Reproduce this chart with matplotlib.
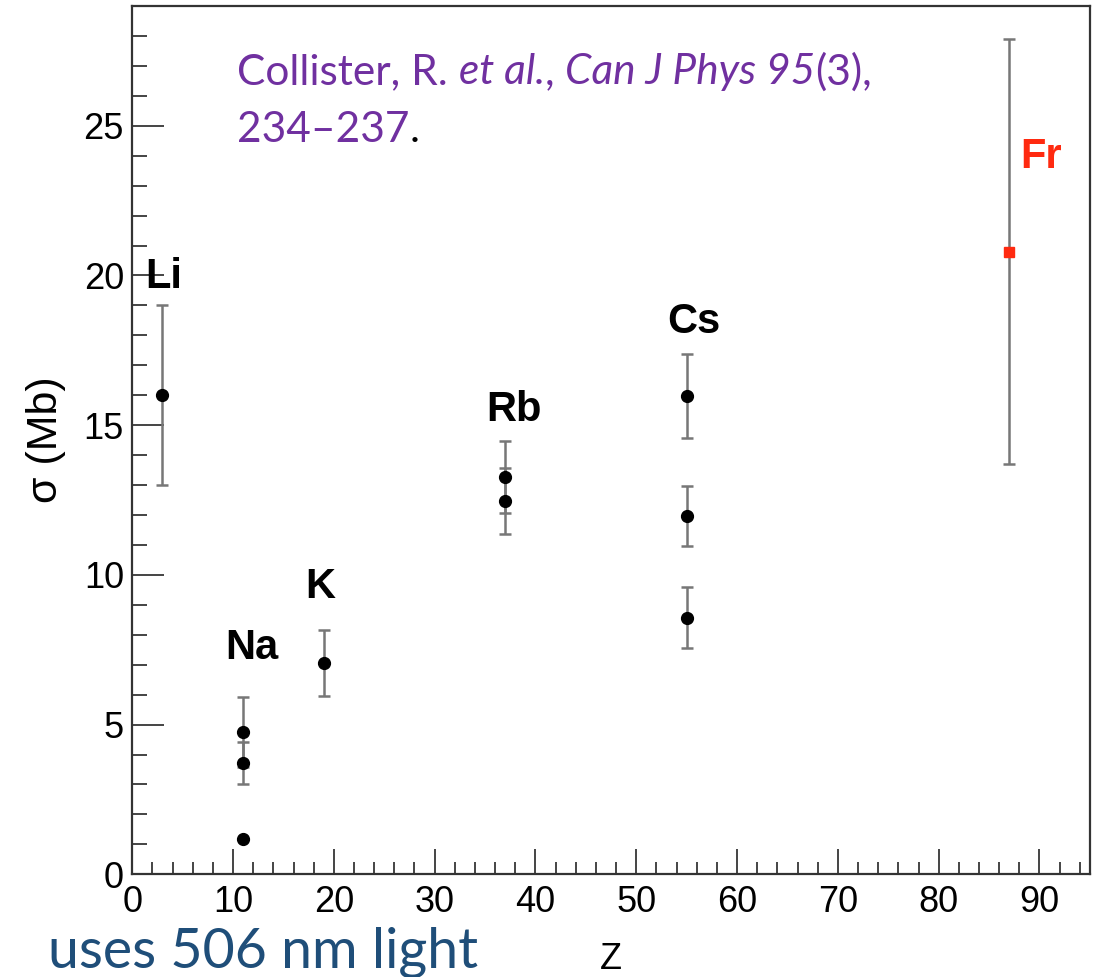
import matplotlib
matplotlib.use("Agg")
import matplotlib.pyplot as plt
from matplotlib.ticker import MultipleLocator

# measured cross sections (Mb) vs atomic number
z_vals = [3, 11, 11, 11, 19, 37, 37, 55, 55, 55]
sigma_vals = [16.0, 4.76, 3.71, 1.18, 7.07, 13.28, 12.47, 15.98, 11.97, 8.57]
sigma_err = [3.0, 1.17, 0.71, 0.0, 1.1, 1.2, 1.1, 1.41, 1.01, 1.02]

# francium result
fr_z = [87]
fr_sigma = [20.79]
fr_err = [7.1]

# element labels and where they sit
elements = ["Li", "Na", "K", "Rb", "Cs", "Fr"]
label_x = [3.1, 11.9, 18.7, 37.9, 55.7, 90.2]
label_y = [19.95, 7.56, 9.6, 15.5, 18.46, 23.97]

fig = plt.figure(figsize=(11.02, 9.77), dpi=100)
ax = fig.add_axes([0.1200, 0.1051, 0.989 - 0.1200, 0.9939 - 0.1051])

ax.errorbar(z_vals, sigma_vals, yerr=sigma_err, fmt="none", ecolor="#777777",
            elinewidth=1.8, capsize=4.5, capthick=1.8, zorder=2)
ax.plot(z_vals, sigma_vals, "o", color="black", markersize=8.5, zorder=3)

ax.errorbar(fr_z, fr_sigma, yerr=fr_err, fmt="none", ecolor="#777777",
            elinewidth=1.8, capsize=4.5, capthick=1.8, zorder=2)
ax.plot(fr_z, fr_sigma, "s", color="#ff2a10", markersize=7.5, zorder=3)

for name, lx, ly in zip(elements, label_x, label_y):
    col = "#ff2a10" if name == "Fr" else "black"
    ax.text(lx, ly, name, ha="center", va="center", fontsize=30,
            fontweight="bold", family="Liberation Sans", color=col, zorder=4)

ax.set_xlim(0, 95)
ax.set_ylim(0, 29)

ax.xaxis.set_major_locator(MultipleLocator(10))
ax.xaxis.set_minor_locator(MultipleLocator(2))
ax.yaxis.set_major_locator(MultipleLocator(5))
ax.yaxis.set_minor_locator(MultipleLocator(1))
ax.tick_params(axis="x", which="major", direction="in", length=18, width=1.4,
               color="#444444", labelsize=26, pad=8)
ax.tick_params(axis="x", which="minor", direction="in", length=9, width=1.4,
               color="#444444")
ax.tick_params(axis="y", which="major", direction="in", length=23, width=1.4,
               color="#444444", labelsize=26, pad=6)
ax.tick_params(axis="y", which="minor", direction="in", length=11, width=1.4,
               color="#444444")
for lab in ax.get_xticklabels() + ax.get_yticklabels():
    lab.set_family("Liberation Sans")
for sp in ax.spines.values():
    sp.set_linewidth(1.6)
    sp.set_color("#333333")

ax.set_xlabel("Z", fontsize=26, family="Liberation Sans")
ax.xaxis.set_label_coords(0.5, -0.078)
ax.set_ylabel("σ (Mb)", fontsize=31, family="Liberation Sans")
ax.yaxis.set_label_coords(-0.069, 0.5)

# citation, written piece by piece so the italic parts line up
purple = "#7030A0"
cite_lines = [
    [("Collister, R. ", "normal", purple), ("et al.", "italic", purple),
     (", ", "normal", purple), ("Can J Phys 95", "italic", purple),
     ("(3),", "normal", purple)],
    [("234–237", "normal", purple), (".", "normal", "black")],
]
fig.canvas.draw()
renderer = fig.canvas.get_renderer()
W = fig.get_figwidth() * fig.dpi
line_y = [1 - 72 / 977, 1 - 130 / 977]
for pieces, yy in zip(cite_lines, line_y):
    xx = 237 / W
    for s, style, col in pieces:
        t = fig.text(xx, yy, s, fontsize=30.5, style=style, color=col,
                     family="Lato", va="center", ha="left")
        bb = t.get_window_extent(renderer)
        xx = bb.x1 / W

# text at the bottom left over from the slide
fig.text(478 / 1102, 9 / 977, "uses 506 nm light", fontsize=40, color="#1F4E79",
         family="Lato", ha="right", va="baseline")

fig.savefig("out.png", dpi=100)
